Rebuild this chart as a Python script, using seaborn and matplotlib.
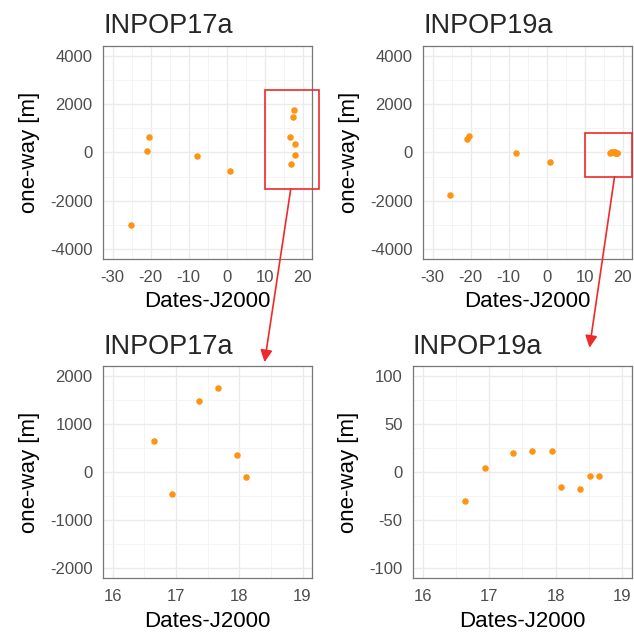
import numpy as np
import pandas as pd
import matplotlib
matplotlib.use("Agg")
import matplotlib.pyplot as plt
from matplotlib.patches import Rectangle, ConnectionPatch
from matplotlib.ticker import MultipleLocator
import seaborn as sns

# data
dates17 = [-25.1, -20.8, -20.4, -7.9, 1.0, 16.65, 16.94, 17.37, 17.67, 17.96, 18.10]
oneway17 = [-2990, 60, 660, -165, -780, 640, -460, 1465, 1740, 350, -110]

dates19 = [-25.3, -20.8, -20.4, -7.9, 1.0, 16.64, 16.93, 17.36, 17.65, 17.94,
           18.08, 18.37, 18.51, 18.66]
oneway19 = [-1750, 540, 690, -30, -410, -30.2, 4.1, 20.0, 21.3, 21.3,
            -15.5, -17.9, -4.5, -4.5]

models = ["INPOP17a", "INPOP19a"]

df = pd.concat([
    pd.DataFrame({"date": dates17, "oneway": oneway17, "model": models[0]}),
    pd.DataFrame({"date": dates19, "oneway": oneway19, "model": models[1]}),
])

sns.set_style("white")
plt.rcParams["font.family"] = ["Liberation Sans", "DejaVu Sans"]
plt.rcParams["axes.unicode_minus"] = False


def ggplot_bw(ax, xlim, ylim, xmaj, xmin, ymaj, ymin):
    def expand(lo, hi):
        d = (hi - lo) * 0.05
        return lo - d, hi + d
    ax.set_xlim(*expand(*xlim))
    ax.set_ylim(*expand(*ylim))
    ax.xaxis.set_major_locator(MultipleLocator(xmaj))
    ax.xaxis.set_minor_locator(MultipleLocator(xmin))
    ax.yaxis.set_major_locator(MultipleLocator(ymaj))
    ax.yaxis.set_minor_locator(MultipleLocator(ymin))
    ax.grid(which="major", color="#ebebeb", linewidth=1.0)
    ax.grid(which="minor", color="#f2f2f2", linewidth=0.6)
    ax.set_axisbelow(True)
    for s in ax.spines.values():
        s.set_color("#777777")
        s.set_linewidth(0.9)
    ax.tick_params(which="major", direction="out", length=3.6, width=0.8,
                   color="#333333", labelcolor="#4d4d4d", labelsize=12, pad=4)
    ax.tick_params(which="minor", length=0)
    ax.set_xlabel("Dates-J2000", fontsize=16, color="black", labelpad=5)
    ax.set_ylabel("one-way [m]", fontsize=16, color="black", labelpad=7)


fig = plt.figure(figsize=(6.34, 6.34), dpi=100)
axes = {
    "tl": fig.add_axes([0.1625, 0.5915, 0.3297, 0.336]),
    "tr": fig.add_axes([0.6672, 0.5915, 0.3297, 0.336]),
    "bl": fig.add_axes([0.1625, 0.0883, 0.3297, 0.3344]),
    "br": fig.add_axes([0.6514, 0.0883, 0.3454, 0.3344]),
}

panels = [
    ("tl", models[0], (-30, 20), (-4000, 4000), 10, 5, 2000, 1000),
    ("tr", models[1], (-30, 20), (-4000, 4000), 10, 5, 2000, 1000),
    ("bl", models[0], (16, 19), (-2000, 2000), 1, 0.5, 1000, 500),
    ("br", models[1], (16, 19), (-100, 100), 1, 0.5, 50, 25),
]

for key, model, xl, yl, xm, xn, ym, yn in panels:
    ax = axes[key]
    sub = df[df["model"] == model]
    sns.scatterplot(data=sub, x="date", y="oneway", ax=ax, color="#ff9412",
                    s=22, linewidth=0, legend=False)
    ggplot_bw(ax, xl, yl, xm, xn, ym, yn)
    ax.set_title(model, loc="left", fontsize=19.5, pad=9)

# zoom windows and arrows
zoom17 = (10, -1500, 14.4, 4100)
zoom19 = (10, -1000, 12.6, 1800)
for key, (x0, y0, w, h) in [("tl", zoom17), ("tr", zoom19)]:
    axes[key].add_patch(Rectangle((x0, y0), w, h, fill=False, edgecolor="#ee2a2a",
                                  linewidth=1.2, clip_on=False, zorder=5))

arrows = [("tl", (16.9, -1500), "bl", (18.40, 2280)),
          ("tr", (17.9, -1000), "br", (18.51, 129))]
for ka, pa, kb, pb in arrows:
    con = ConnectionPatch(xyA=pa, coordsA=axes[ka].transData,
                          xyB=pb, coordsB=axes[kb].transData,
                          arrowstyle="-|>", color="#ee2a2a", linewidth=1.2,
                          mutation_scale=18, zorder=10)
    fig.add_artist(con)

fig.savefig("out.png", dpi=100)
